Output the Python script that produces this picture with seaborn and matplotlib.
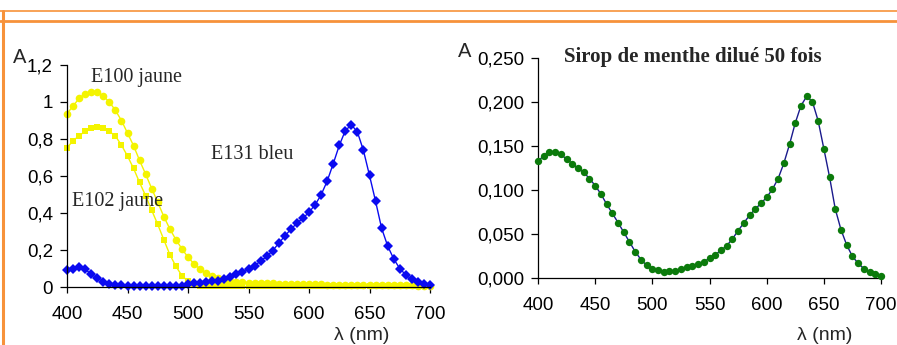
import numpy as np
import pandas as pd
import matplotlib
matplotlib.use('Agg')
import matplotlib.pyplot as plt
import seaborn as sns
from matplotlib.lines import Line2D

# wavelengths, every 5 nm
wl = list(range(400, 705, 5))

# E100 jaune (circles)
e100 = [0.937, 0.978, 1.02, 1.045, 1.056, 1.052, 1.032, 1.0, 0.955, 0.90,
        0.832, 0.764, 0.684, 0.61, 0.532, 0.458, 0.381, 0.314, 0.256, 0.206,
        0.161, 0.125, 0.097, 0.076, 0.058, 0.047, 0.040, 0.034, 0.029, 0.026,
        0.024, 0.022, 0.021, 0.020, 0.019, 0.018, 0.017, 0.016, 0.016, 0.015,
        0.015, 0.014, 0.014, 0.013, 0.013, 0.012, 0.012, 0.012, 0.011, 0.011,
        0.011, 0.010, 0.010, 0.010, 0.010, 0.009, 0.009, 0.009, 0.008, 0.008,
        0.008]

# E102 jaune (squares)
e102 = [0.753, 0.79, 0.818, 0.841, 0.857, 0.863, 0.857, 0.841, 0.816, 0.767,
        0.708, 0.641, 0.565, 0.493, 0.415, 0.338, 0.256, 0.175, 0.112, 0.061,
        0.031, 0.013, 0.004, 0.003, 0.003, 0.003, 0.003, 0.003, 0.003, 0.003,
        0.003, 0.003, 0.003, 0.003, 0.003, 0.003, 0.003, 0.003, 0.003, 0.003,
        0.003, 0.003, 0.003, 0.003, 0.003, 0.003, 0.003, 0.003, 0.003, 0.003,
        0.003, 0.003, 0.003, 0.003, 0.003, 0.003, 0.003, 0.003, 0.003, 0.003,
        0.003]

# E131 bleu (diamonds)
e131 = [0.09, 0.10, 0.106, 0.096, 0.07, 0.047, 0.029, 0.018, 0.013, 0.009,
        0.007, 0.007, 0.007, 0.007, 0.007, 0.007, 0.007, 0.007, 0.007, 0.008,
        0.016, 0.020, 0.022, 0.025, 0.030, 0.034, 0.043, 0.054, 0.068, 0.083,
        0.10, 0.115, 0.14, 0.165, 0.197, 0.236, 0.276, 0.312, 0.345, 0.372,
        0.404, 0.444, 0.498, 0.572, 0.666, 0.765, 0.845, 0.877, 0.838, 0.738,
        0.603, 0.464, 0.318, 0.222, 0.152, 0.10, 0.065, 0.043, 0.029, 0.018,
        0.013]

# Sirop de menthe dilué 50 fois
menthe = [0.1326, 0.139, 0.143, 0.1436, 0.1405, 0.135, 0.130, 0.1246, 0.120, 0.113,
          0.105, 0.0955, 0.084, 0.0735, 0.063, 0.052, 0.041, 0.030, 0.021, 0.0144,
          0.0102, 0.0087, 0.0072, 0.0076, 0.0083, 0.0098, 0.012, 0.014, 0.0155, 0.0186,
          0.0223, 0.0265, 0.0314, 0.0367, 0.0443, 0.0538, 0.0625, 0.0712, 0.0784, 0.0848,
          0.0917, 0.1008, 0.1129, 0.1303, 0.1519, 0.1761, 0.1958, 0.2064, 0.2004, 0.1788,
          0.147, 0.1148, 0.0784, 0.0549, 0.0375, 0.0246, 0.0167, 0.0106, 0.0072, 0.0049,
          0.0027]

xticks = [400, 450, 500, 550, 600, 650, 700]
yticks_left = [0, 0.2, 0.4, 0.6, 0.8, 1.0, 1.2]
ylabels_left = ['0', '0,2', '0,4', '0,6', '0,8', '1', '1,2']
yticks_right = [0, 0.05, 0.10, 0.15, 0.20, 0.25]
ylabels_right = ['0,000', '0,050', '0,100', '0,150', '0,200', '0,250']

sns.set_theme(style='ticks')
plt.rcParams['font.family'] = ['Liberation Sans Narrow', 'Liberation Sans', 'DejaVu Sans']
plt.rcParams['axes.linewidth'] = 0.9
plt.rcParams['xtick.major.size'] = 4.5
plt.rcParams['ytick.major.size'] = 5
plt.rcParams['xtick.major.width'] = 0.9
plt.rcParams['ytick.major.width'] = 0.9

fig = plt.figure(figsize=(8.97, 3.45), dpi=100)
W, H = 897, 345

def px_axes(x0, x1, ytop, ybot):
    return fig.add_axes([x0 / W, 1 - ybot / H, (x1 - x0) / W, (ybot - ytop) / H])

ax1 = px_axes(67, 430, 65, 287)
ax2 = px_axes(538, 881, 58, 278)

yellow = '#F4F400'
blue = '#0A0AF0'

sns.lineplot(x=wl, y=e100, ax=ax1, color=yellow, marker='o', markersize=5.5,
             markeredgewidth=0, linewidth=1)
sns.lineplot(x=wl, y=e102, ax=ax1, color=yellow, marker='s', markersize=4.5,
             markeredgewidth=0, linewidth=1)
sns.lineplot(x=wl, y=e131, ax=ax1, color=blue, marker='D', markersize=4.8,
             markeredgewidth=0, linewidth=1)

sns.lineplot(x=wl, y=menthe, ax=ax2, color='#1A1A8C', linewidth=1)
sns.scatterplot(x=wl, y=menthe, ax=ax2, color='#0B7A0B', s=28, linewidth=0, zorder=3)

for ax, yt, yl, ymax in [(ax1, yticks_left, ylabels_left, 1.2),
                          (ax2, yticks_right, ylabels_right, 0.25)]:
    ax.set_xlim(400, 700)
    ax.set_ylim(0, ymax)
    ax.set_xticks(xticks)
    ax.set_xticklabels([str(t) for t in xticks])
    ax.set_yticks(yt)
    ax.set_yticklabels(yl)
    ax.tick_params(labelsize=13.5, colors='black')
    ax.tick_params(axis='x', pad=9)
    ax.tick_params(axis='y', pad=5)
    for s in ['top', 'right']:
        ax.spines[s].set_visible(False)
    for s in ['left', 'bottom']:
        ax.spines[s].set_color('black')
    for c in ax.collections + ax.lines:
        c.set_clip_on(False)
    ax.set_xlabel('')
    ax.set_ylabel('')

# axis letters and labels
fig.text(20 / W, 1 - 63 / H, 'A', fontsize=14.5, ha='center', va='baseline')
fig.text(465 / W, 1 - 57 / H, 'A', fontsize=14.5, ha='center', va='baseline')
fig.text(362 / W, 1 - 340 / H, 'λ (nm)', fontsize=14, ha='center', va='baseline')
fig.text(825 / W, 1 - 340 / H, 'λ (nm)', fontsize=14, ha='center', va='baseline')

serif = ['Liberation Serif', 'DejaVu Serif']
fig.text(91 / W, 1 - 82 / H, 'E100 jaune', fontsize=14.5, family=serif, va='baseline')
fig.text(211 / W, 1 - 159 / H, 'E131 bleu', fontsize=14.5, family=serif, va='baseline')
fig.text(72 / W, 1 - 206 / H, 'E102 jaune', fontsize=14.5, family=serif, va='baseline')
fig.text(693 / W, 1 - 62 / H, 'Sirop de menthe dilué 50 fois', fontsize=15,
         family=serif, weight='bold', ha='center', va='baseline')

# orange frame
orange = '#F7923A'
fig.add_artist(Line2D([0, 1], [1 - 10.5 / H, 1 - 10.5 / H], color=orange, lw=1.2))
fig.add_artist(Line2D([0, 1], [1 - 21 / H, 1 - 21 / H], color=orange, lw=2))
fig.add_artist(Line2D([3 / W, 3 / W], [0, 1 - 10.5 / H], color=orange, lw=2.2))

fig.savefig('out.png', dpi=100, facecolor='white')
